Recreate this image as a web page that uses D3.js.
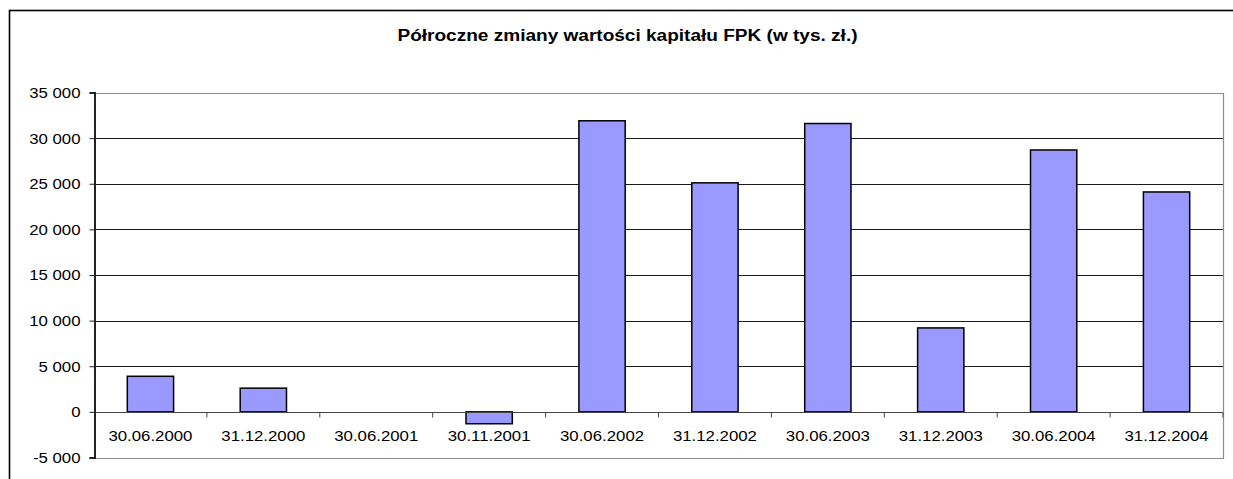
<!DOCTYPE html>
<meta charset="utf-8">
<script src="https://cdn.jsdelivr.net/npm/d3@7"></script>
<style>
body { margin: 0; background: #fff; }
text { font-family: Arial, "Liberation Sans", sans-serif; fill: #000; }
</style>
<body>
<script>

// data (w tys. zł)
var categories = ["30.06.2000", "31.12.2000", "30.06.2001", "30.11.2001", "30.06.2002",
                  "31.12.2002", "30.06.2003", "31.12.2003", "30.06.2004", "31.12.2004"];
var values = [3900, 2600, 0, -1300, 31900, 25100, 31600, 9200, 28700, 24100];
var yTicks = [-5000, 0, 5000, 10000, 15000, 20000, 25000, 30000, 35000];
var title = "Półroczne zmiany wartości kapitału FPK (w tys. zł.)";

var width = 1233,
    height = 479;
var margin = {left: 94, right: 10, top: 92.5, bottom: 21.5};
var sx = 1.2; // text in the picture is stretched horizontally

var svg = d3.select("body").append("svg")
    .attr("width", width)
    .attr("height", height);

// outer chart frame (right and bottom edges fall outside the picture)
svg.append("rect")
    .attr("x", 9.5).attr("y", 10.5)
    .attr("width", 1300).attr("height", 500)
    .attr("fill", "none")
    .attr("stroke", "#000")
    .attr("stroke-width", 1.6);

var x = d3.scaleBand()
    .domain(categories)
    .range([margin.left, width - margin.right])
    .paddingInner(0.59)
    .paddingOuter(0.295);

var xb = d3.scaleBand()
    .domain(categories)
    .range([margin.left, width - margin.right]);

var y = d3.scaleLinear()
    .domain([-5000, 35000])
    .range([height - margin.bottom, margin.top]);

var fmt = function(d) { return d3.format(",")(d).replace(/,/g, " ").replace("\u2212", "-"); };

// grid lines
svg.append("g")
    .selectAll("line")
    .data(yTicks.filter(function(d) { return d > -5000 && d < 35000 && d != 0; }))
    .enter().append("line")
    .attr("x1", margin.left).attr("x2", width - margin.right)
    .attr("y1", function(d) { return Math.round(y(d)) + 0.5; })
    .attr("y2", function(d) { return Math.round(y(d)) + 0.5; })
    .attr("stroke", "#1a1a1a")
    .attr("stroke-width", 1);

// plot area border (gray)
svg.append("path")
    .attr("d", "M" + margin.left + "," + (Math.round(y(35000)) + 0.5) +
               "H" + (width - margin.right + 0.5) +
               "V" + (Math.round(y(-5000)) + 0.5) +
               "H" + margin.left)
    .attr("fill", "none")
    .attr("stroke", "#8c8c8c")
    .attr("stroke-width", 1.2);

// bars
svg.append("g")
    .selectAll("rect")
    .data(values)
    .enter().append("rect")
    .attr("x", function(d, i) { return x(categories[i]); })
    .attr("width", x.bandwidth())
    .attr("y", function(d) { return y(Math.max(0, d)); })
    .attr("height", function(d) { return Math.abs(y(d) - y(0)); })
    .attr("fill", "#9999ff")
    .attr("stroke", function(d) { return d == 0 ? "none" : "#000"; })
    .attr("stroke-width", 1.5);

// zero axis line with ticks at category boundaries
var y0 = Math.round(y(0)) + 0.5;
svg.append("line")
    .attr("x1", margin.left).attr("x2", width - margin.right)
    .attr("y1", y0).attr("y2", y0)
    .attr("stroke", "#444")
    .attr("stroke-width", 1.2);

svg.append("g")
    .selectAll("line")
    .data(categories.slice(1).concat(["end"]))
    .enter().append("line")
    .attr("x1", function(d, i) { return i < categories.length - 1 ? xb(d) : width - margin.right; })
    .attr("x2", function(d, i) { return i < categories.length - 1 ? xb(d) : width - margin.right; })
    .attr("y1", y0).attr("y2", y0 + 5)
    .attr("stroke", "#444");

// category labels
svg.append("g")
    .selectAll("text")
    .data(categories)
    .enter().append("text")
    .attr("transform", function(d) {
        return "translate(" + (xb(d) + xb.bandwidth() / 2) + "," + (y0 + 28) + ") scale(" + sx + ",1)";
    })
    .attr("text-anchor", "middle")
    .attr("font-size", "14px")
    .text(function(d) { return d; });

// y axis
var yAxis = d3.axisLeft(y)
    .tickValues(yTicks)
    .tickSize(5)
    .tickPadding(0)
    .tickFormat(fmt);

var ga = svg.append("g")
    .attr("transform", "translate(" + (margin.left + 0.5) + ",0)")
    .call(yAxis);

ga.select(".domain").attr("stroke", "#222").attr("stroke-width", 2);
ga.selectAll(".tick line").attr("stroke", "#222");
ga.selectAll(".tick text")
    .attr("font-size", "14px")
    .attr("font-family", "Arial, 'Liberation Sans', sans-serif")
    .attr("x", 0)
    .attr("dy", "0.35em")
    .attr("transform", "translate(-14,0) scale(" + sx + ",1)");

// title
svg.append("text")
    .attr("transform", "translate(627.5,41) scale(1.19,1)")
    .attr("text-anchor", "middle")
    .attr("font-size", "16px")
    .attr("font-weight", "bold")
    .text(title);

</script>
</body>
